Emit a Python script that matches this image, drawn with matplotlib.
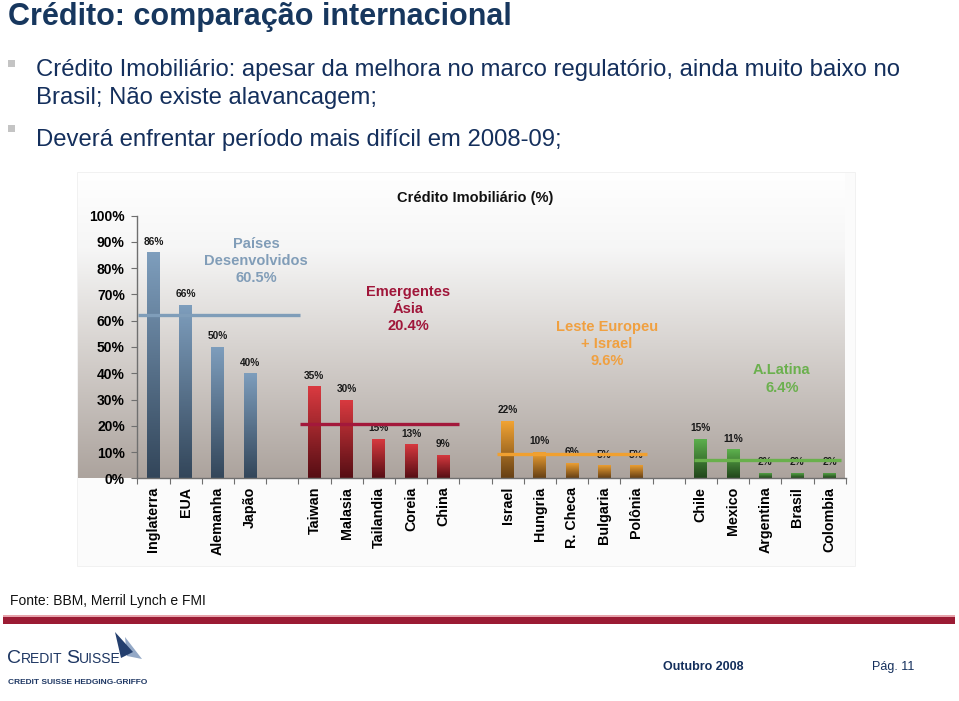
import matplotlib
matplotlib.use("Agg")
import matplotlib.pyplot as plt
import numpy as np
from matplotlib.colors import LinearSegmentedColormap
from matplotlib.patches import Rectangle, Polygon

plt.rcParams["font.family"] = ["Liberation Sans", "DejaVu Sans"]

# ---- data -------------------------------------------------------------------
countries = ["Inglaterra", "EUA", "Alemanha", "Japão",
             "Taiwan", "Malasia", "Tailandia", "Coreia", "China",
             "Israel", "Hungria", "R. Checa", "Bulgaria", "Polônia",
             "Chile", "Mexico", "Argentina", "Brasil", "Colombia"]
values = [86, 66, 50, 40,
          35, 30, 15, 13, 9,
          22, 10, 6, 5, 5,
          15, 11, 2, 2, 2]
group_sizes = [4, 5, 5, 5]
group_names = ["Países\nDesenvolvidos", "Emergentes\nÁsia",
               "Leste Europeu\n+ Israel", "A.Latina"]
group_avg_text = ["60.5%", "20.4%", "9.6%", "6.4%"]
avg_line_y = [62.0, 20.6, 9.1, 7.0]           # where the average lines sit
avg_line_x = [(0.03, 5.05), (5.05, 10.0), (11.16, 15.82), (17.3, 21.85)]

# palette
NAVY = "#17375E"
TXT = "#142F5C"
bar_top = ["#7E9EBD", "#DA3A40", "#F4A534", "#5EB24E"]
bar_bot = ["#33465A", "#560E14", "#664015", "#21461B"]
line_col = ["#7F9DB9", "#A3183B", "#F0A030", "#69B04C"]
label_col = ["#819DB8", "#A0163A", "#F0A040", "#6BB04E"]

W, H = 959, 701
fig = plt.figure(figsize=(W / 100, H / 100), dpi=100)
fig.patch.set_facecolor("white")


def fx(px):
    return px / W


def fy(py):
    return 1 - py / H


# ---- slide header -------------------------------------------------------------
fig.text(fx(8), fy(17), "Crédito: comparação internacional", fontsize=22,
         fontweight="bold", color=NAVY, va="center", ha="left")

bullets = [(70, "Crédito Imobiliário: apesar da melhora no marco regulatório, ainda muito baixo no"),
           (98, "Brasil; Não existe alavancagem;"),
           (140, "Deverá enfrentar período mais difícil em 2008-09;")]
for yy, s in bullets:
    fig.text(fx(36), fy(yy), s, fontsize=17.2, color=TXT, va="center", ha="left")
for yy in (60, 125):
    fig.add_artist(Rectangle((fx(8), fy(yy + 7)), fx(7), 7 / H, transform=fig.transFigure,
                             facecolor="#C4C4C4", edgecolor="none"))

# ---- chart panel ---------------------------------------------------------------
fig.add_artist(Rectangle((fx(77), fy(566)), fx(855) - fx(77), fy(172) - fy(566),
                         transform=fig.transFigure, facecolor="#FBFBFB",
                         edgecolor="#F0F0F0", lw=0.6, zorder=0))

bg_cmap = LinearSegmentedColormap.from_list(
    "bg", [(0, "#FFFFFF"), (0.25, "#F6F6F6"), (0.55, "#D9D5D2"), (1, "#ACA39D")])
bg = fig.add_axes([fx(78), fy(478.3), fx(845) - fx(78), fy(173) - fy(478.3)])
bg.imshow(np.linspace(0, 1, 256).reshape(-1, 1), cmap=bg_cmap, aspect="auto",
          extent=(0, 1, 0, 1))
bg.axis("off")

ax = fig.add_axes([fx(137.3), fy(478.3), (845.7 - 137.3) / W, (478.3 - 215.7) / H])
ax.patch.set_alpha(0)

# slot positions: one empty slot between groups
xs, gidx = [], []
slot = 0
for g, n in enumerate(group_sizes):
    for _ in range(n):
        xs.append(slot + 0.5)
        gidx.append(g)
        slot += 1
    slot += 1

grad = np.linspace(0, 1, 128).reshape(-1, 1)
for x, v, g in zip(xs, values, gidx):
    b = ax.bar(x, v, width=0.4, color="none", edgecolor="none", zorder=2)[0]
    cm = LinearSegmentedColormap.from_list("b%d" % g, [bar_bot[g], bar_top[g]])
    im = ax.imshow(grad, cmap=cm, aspect="auto", origin="lower", zorder=2,
                   extent=(x - 0.2, x + 0.2, 0, v))
    im.set_clip_path(b)
    ax.annotate(f"{v}%", (x, v), xytext=(0, 4), textcoords="offset points",
                ha="center", va="bottom", fontsize=7.3, fontweight="bold",
                color="#1a1a1a", zorder=3)

for g in range(4):
    ax.plot(avg_line_x[g], [avg_line_y[g]] * 2, color=line_col[g], lw=2.4,
            solid_capstyle="butt", zorder=4)

ax.text(3.69, 82.7, group_names[0] + "\n" + group_avg_text[0], ha="center", va="center",
        fontsize=10.5, fontweight="bold", color=label_col[0], linespacing=1.3)
ax.text(8.41, 64.5, group_names[1] + "\n" + group_avg_text[1], ha="center", va="center",
        fontsize=10.5, fontweight="bold", color=label_col[1], linespacing=1.3)
ax.text(14.58, 51.1, group_names[2] + "\n" + group_avg_text[2], ha="center", va="center",
        fontsize=10.5, fontweight="bold", color=label_col[2], linespacing=1.3)
ax.text(20.02, 37.8, group_names[3] + "\n" + group_avg_text[3], ha="center", va="center",
        fontsize=10.5, fontweight="bold", color=label_col[3], linespacing=1.3)

ax.set_xlim(0, 22)
ax.set_ylim(0, 100)
ax.set_xticks(np.arange(0, 23), labels=[""] * 23)
ax.set_xticks(xs, labels=countries, minor=True)
ax.tick_params(axis="x", which="major", length=4, direction="out", color="#6F6F6F")
ax.tick_params(axis="x", which="minor", length=0, pad=6)
for lab in ax.get_xticklabels(minor=True):
    lab.set_rotation(90)
    lab.set_va("top")
    lab.set_fontweight("bold")
    lab.set_fontsize(10.3)
ax.set_yticks(np.arange(0, 101, 10), labels=[f"{v}%" for v in range(0, 101, 10)])
ax.tick_params(axis="y", length=4, direction="out", color="#6F6F6F", pad=5)
for lab in ax.get_yticklabels():
    lab.set_fontweight("bold")
    lab.set_fontsize(10)
for s in ("top", "right"):
    ax.spines[s].set_visible(False)
for s in ("left", "bottom"):
    ax.spines[s].set_color("#6F6F6F")
    ax.spines[s].set_linewidth(1)

fig.text(fx(475), fy(198), "Crédito Imobiliário (%)", ha="center", va="center",
         fontsize=10.5, fontweight="bold", color="#111111")

# ---- footer ---------------------------------------------------------------------
fig.text(fx(10), fy(601), "Fonte: BBM, Merril Lynch e FMI", fontsize=10,
         color="#111111", va="center", ha="left")
fig.add_artist(Rectangle((fx(3), fy(617)), fx(952), 2.5 / H, transform=fig.transFigure,
                         facecolor="#E7A3AC", edgecolor="none"))
fig.add_artist(Rectangle((fx(3), fy(624)), fx(952), 7 / H, transform=fig.transFigure,
                         facecolor="#9B1B34", edgecolor="none"))

# logo: small caps wordmark built piece by piece
r = fig.canvas.get_renderer()
lx = fx(7)
for s, size in [("C", 14), ("REDIT", 10), (" ", 8), ("S", 14), ("UISSE", 10)]:
    t = fig.text(lx, fy(663), s, fontsize=size, color="#1E3763", va="baseline", ha="left")
    lx += t.get_window_extent(r).width / W
fig.add_artist(Polygon([(fx(125), fy(637)), (fx(142), fy(659)), (fx(127), fy(656))],
                       closed=True, transform=fig.transFigure, facecolor="#93A8C6",
                       edgecolor="none"))
fig.add_artist(Polygon([(fx(115), fy(632)), (fx(133), fy(652)), (fx(121), fy(658))],
                       closed=True, transform=fig.transFigure, facecolor="#243F6E",
                       edgecolor="none"))
fig.text(fx(8), fy(683), "CREDIT SUISSE HEDGING-GRIFFO", fontsize=6, fontweight="bold",
         color="#1E3763", va="center", ha="left")

fig.text(fx(663), fy(667), "Outubro 2008", fontsize=9, fontweight="bold", color=TXT,
         va="center", ha="left")
fig.text(fx(872), fy(667), "Pág. 11", fontsize=9, color=TXT, va="center", ha="left")

fig.savefig("out.png", dpi=100, facecolor="white")
